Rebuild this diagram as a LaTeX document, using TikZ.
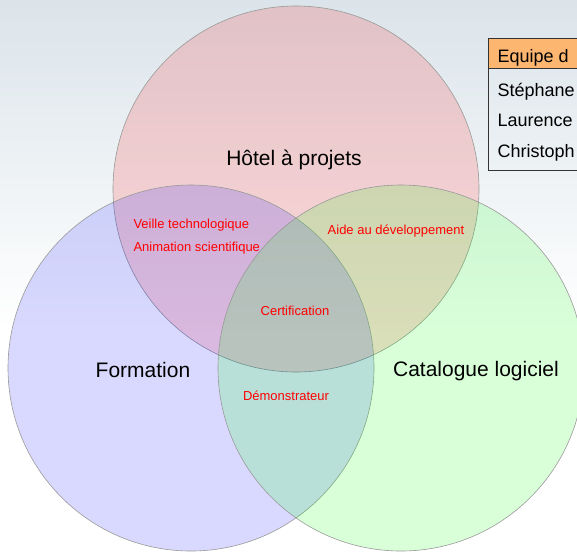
\documentclass[tikz,border=0pt]{standalone}
\usepackage{fontspec}
\setmainfont{Liberation Sans}
\definecolor{bgtop}{RGB}{219,228,234}
\definecolor{headorange}{RGB}{253,182,112}

\begin{document}
\begin{tikzpicture}[
    x=1pt, y=-1pt,
    venn/.style={circle, draw=black!40, line width=0.6pt,
        minimum size=366pt, inner sep=0pt, fill opacity=0.15},
    areaname/.style={font=\fontsize{21}{25}\selectfont},
    topic/.style={text=red, font=\fontsize{13}{15}\selectfont},
    member/.style={anchor=base west, font=\fontsize{18}{21}\selectfont},
    tableframe/.style={draw=black!80, line width=0.6pt}
]
    \useasboundingbox (0,0) rectangle (577,552);
    \shade[top color=bgtop, bottom color=white] (0,0) rectangle (577,330);
    % the three domains
    \node[venn, fill=red] (hotel) at (296,189) {};
    \node[venn, fill=blue] (formation) at (191,368) {};
    \node[venn, fill=green] (catalogue) at (401,368) {};
    \node[areaname] (hotellabel) at (294,160) {Hôtel à projets};
    \node[areaname] (formationlabel) at (143,370) {Formation};
    \node[areaname] (cataloguelabel) at (476,371) {Catalogue logiciel};
    % overlaps
    \node[topic, anchor=west] (veille) at (130,225) {Veille technologique};
    \node[topic, anchor=west] (animation) at (130,248) {Animation scientifique};
    \node[topic] (aide) at (396,231) {Aide au développement};
    \node[topic] (certification) at (295,311) {Certification};
    \node[topic] (demonstrateur) at (286,396) {Démonstrateur};
    % team table
    \filldraw[tableframe, fill=headorange] (488,38) rectangle (640,68);
    \draw[tableframe] (488,68) rectangle (640,170);
    \node[member] (equipe) at (494,62) {Equipe d};
    \node[member] (stephane) at (494,96) {Stéphane};
    \node[member] (laurence) at (494,126) {Laurence};
    \node[member] (christophe) at (494,157) {Christoph};
\end{tikzpicture}
\end{document}
